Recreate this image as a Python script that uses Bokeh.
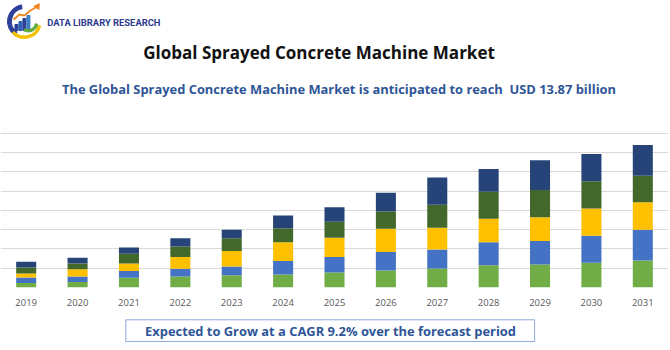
from bokeh.plotting import figure
from bokeh.layouts import column
from bokeh.models import Range1d, FactorRange, FixedTicker
from bokeh.core.properties import value
from bokeh.embed import file_html
from bokeh.resources import INLINE

years = ["2019", "2020", "2021", "2022", "2023", "2024", "2025",
         "2026", "2027", "2028", "2029", "2030", "2031"]
seg1 = [0.24, 0.29, 0.50, 0.57, 0.64, 0.68, 0.78, 0.88, 0.99, 1.16, 1.19, 1.28, 1.40]
seg2 = [0.28, 0.28, 0.35, 0.40, 0.45, 0.69, 0.80, 0.96, 0.98, 1.19, 1.22, 1.40, 1.60]
seg3 = [0.21, 0.38, 0.40, 0.61, 0.80, 0.98, 1.00, 1.21, 1.13, 1.22, 1.24, 1.42, 1.42]
seg4 = [0.31, 0.30, 0.50, 0.55, 0.67, 0.73, 0.83, 0.90, 1.19, 1.40, 1.41, 1.42, 1.38]
seg5 = [0.29, 0.29, 0.33, 0.43, 0.44, 0.66, 0.76, 0.97, 1.42, 1.18, 1.55, 1.41, 1.59]
grid_ticks = [0, 1, 2, 3, 4, 5, 6, 7, 8]

title_text = "Global Sprayed Concrete Machine Market"
subtitle_text = "The Global Sprayed Concrete Machine Market is anticipated to reach\u00a0 USD 13.87 billion"
footer_text = "Expected to Grow at a CAGR 9.2% over the forecast period"
brand_text = "DATA LIBRARY RESEARCH"

colors = ["#70AD47", "#4472C4", "#FFC000", "#43682B", "#264478"]
W = 670


def blank(h, y0, y1):
    f = figure(width=W, height=h, x_range=Range1d(0, W), y_range=Range1d(y0, y1),
               output_backend="svg", toolbar_location=None,
               min_border=0, min_border_left=0, min_border_right=0,
               min_border_top=0, min_border_bottom=0)
    f.axis.visible = False
    f.grid.visible = False
    f.outline_line_color = None
    f.background_fill_color = "white"
    f.border_fill_color = "white"
    return f


# ---------- header ----------
TOP_H = 120
top = blank(TOP_H, 0, TOP_H)
cx, cy = 24, TOP_H - 21
top.annular_wedge(x=[cx], y=[cy], inner_radius=13, outer_radius=17,
                  start_angle=1.75, end_angle=4.1, color="#2E3F9A")
top.annular_wedge(x=[cx], y=[cy], inner_radius=14.5, outer_radius=17,
                  start_angle=3.9, end_angle=6.0, color="#F2C200")
top.vbar(x=[16, 20, 24, 28], bottom=cy - 9, top=[cy - 3, cy, cy + 3, cy + 6],
         width=3, color=["#2E3F9A", "#2E5FB0", "#2E3F9A", "#3C7DC4"])
top.annular_wedge(x=[cx + 4], y=[cy - 1], inner_radius=7, outer_radius=9.5,
                  start_angle=4.2, end_angle=6.1, color="#5BAA3C")
top.line(x=[13, 19, 24, 30, 37], y=[cy + 2, cy + 7, cy + 6, cy + 11, cy + 15],
         line_color="#F08A24", line_width=2)
top.triangle(x=[37], y=[cy + 15], size=6, angle=-0.6, color="#F08A24")
top.text(x=[47], y=[TOP_H - 22], text=[brand_text], text_font=value("Roboto"),
         text_font_style="bold", text_font_size="9.4px", text_color="#2E3B8F",
         text_baseline="middle", text_align="left")
top.text(x=[319.5], y=[TOP_H - 52], text=[title_text], text_font=value("Open Sans"),
         text_font_style="bold", text_font_size="17px", text_color="#111111",
         text_baseline="middle", text_align="center")
top.text(x=[339.5], y=[TOP_H - 88.5], text=[subtitle_text], text_font=value("Open Sans"),
         text_font_style="bold", text_font_size="12.9px", text_color="#2F5597",
         text_baseline="middle", text_align="center")

# ---------- main chart ----------
MAIN_H = 195
p = figure(width=W, height=MAIN_H, x_range=FactorRange(*years, range_padding=0),
           y_range=Range1d(0, 8.2), output_backend="svg", toolbar_location=None,
           min_border_left=0, min_border_right=2, min_border_top=9, min_border_bottom=28)
src = dict(years=years, s1=seg1, s2=seg2, s3=seg3, s4=seg4, s5=seg5)
p.vbar_stack(["s1", "s2", "s3", "s4", "s5"], x="years", width=0.39, color=colors,
             line_color=None, source=src)
p.outline_line_color = None
p.background_fill_color = "white"
p.border_fill_color = "white"
p.yaxis.visible = False
p.xgrid.visible = False
p.ygrid.ticker = FixedTicker(ticks=grid_ticks)
p.ygrid.grid_line_color = "#D9D9D9"
p.ygrid.grid_line_width = 1
p.xaxis.axis_line_color = None
p.xaxis.major_tick_line_color = None
p.xaxis.minor_tick_line_color = None
p.xaxis.major_label_text_font = "Open Sans"
p.xaxis.major_label_text_font_size = "9.5px"
p.xaxis.major_label_text_color = "#595959"
p.xaxis.major_label_standoff = 5

# ---------- footer ----------
BOT_H = 35
bot = blank(BOT_H, 0, BOT_H)
bot.quad(left=[125.7], right=[535.7], bottom=[9], top=[30.7], fill_color="white",
         line_color="#8FAADC", line_width=1)
bot.text(x=[331], y=[BOT_H - 15], text=[footer_text], text_font=value("Open Sans"),
         text_font_style="bold", text_font_size="12.9px", text_color="#2F5597",
         text_baseline="middle", text_align="center")

layout = column(top, p, bot, spacing=0)
open("out.html", "w").write(file_html(layout, INLINE))
